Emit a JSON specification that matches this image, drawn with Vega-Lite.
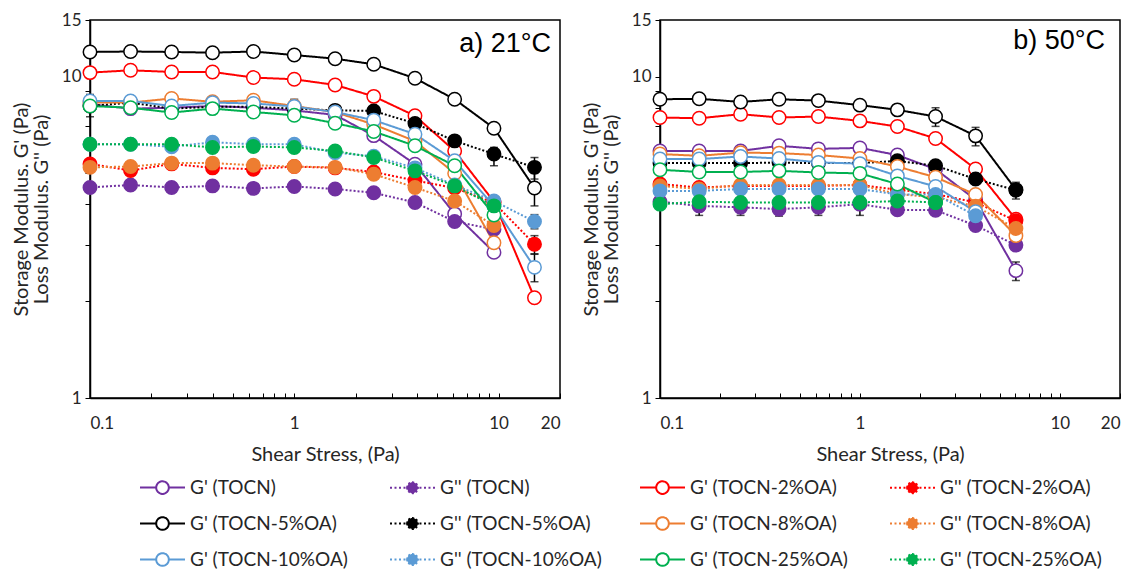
{
  "$schema": "https://vega.github.io/schema/vega-lite/v6.json",
  "background": "white",
  "padding": {"left": 10, "top": 10, "right": 5, "bottom": 5},
  "config": {
    "font": "Lato",
    "view": {"stroke": "black", "strokeWidth": 1.5},
    "axis": {
      "grid": false,
      "domainColor": "black",
      "domainWidth": 1.5,
      "tickColor": "black",
      "tickWidth": 1,
      "labelFont": "Lato",
      "labelFontSize": 17,
      "labelColor": "#262626",
      "titleFont": "Lato",
      "titleFontSize": 20,
      "titleFontWeight": "normal",
      "titleColor": "#262626"
    },
    "title": {
      "font": "Liberation Sans",
      "fontSize": 27,
      "fontWeight": "normal",
      "color": "black",
      "anchor": "end",
      "frame": "group",
      "orient": "top",
      "baseline": "alphabetic"
    },
    "legend": {
      "orient": "none",
      "direction": "horizontal",
      "legendX": 49,
      "legendY": 444,
      "columns": 4,
      "gridAlign": "all",
      "columnPadding": 34,
      "rowPadding": 2,
      "symbolType": "M-1,0L-0.28,0M0.28,0L1,0M-0.28,0A0.28,0.28,0,1,1,0.28,0A0.28,0.28,0,1,1,-0.28,0Z",
      "symbolSize": 2025,
      "symbolStrokeWidth": 2,
      "labelFont": "Lato",
      "labelFontSize": 19,
      "labelColor": "#262626",
      "labelLimit": 300
    }
  },
  "datasets": {
    "a": [
      {"s": "G' (TOCN)", "x": 0.1, "y": 8.2},
      {"s": "G' (TOCN)", "x": 0.158, "y": 7.95},
      {"s": "G' (TOCN)", "x": 0.251, "y": 8.0},
      {"s": "G' (TOCN)", "x": 0.398, "y": 8.1},
      {"s": "G' (TOCN)", "x": 0.631, "y": 8.0},
      {"s": "G' (TOCN)", "x": 1, "y": 7.85},
      {"s": "G' (TOCN)", "x": 1.585, "y": 7.6},
      {"s": "G' (TOCN)", "x": 2.45, "y": 6.55},
      {"s": "G' (TOCN)", "x": 3.9, "y": 5.34},
      {"s": "G' (TOCN)", "x": 6.1, "y": 3.74},
      {"s": "G' (TOCN)", "x": 9.5, "y": 2.84},

      {"s": "G'' (TOCN)", "x": 0.1, "y": 4.52},
      {"s": "G'' (TOCN)", "x": 0.158, "y": 4.6},
      {"s": "G'' (TOCN)", "x": 0.251, "y": 4.52},
      {"s": "G'' (TOCN)", "x": 0.398, "y": 4.57},
      {"s": "G'' (TOCN)", "x": 0.631, "y": 4.49},
      {"s": "G'' (TOCN)", "x": 1, "y": 4.55},
      {"s": "G'' (TOCN)", "x": 1.585, "y": 4.47},
      {"s": "G'' (TOCN)", "x": 2.45, "y": 4.35},
      {"s": "G'' (TOCN)", "x": 3.9, "y": 4.06},
      {"s": "G'' (TOCN)", "x": 6.1, "y": 3.54},
      {"s": "G'' (TOCN)", "x": 9.5, "y": 3.35},

      {"s": "G' (TOCN-2%OA)", "x": 0.1, "y": 10.29},
      {"s": "G' (TOCN-2%OA)", "x": 0.158, "y": 10.46},
      {"s": "G' (TOCN-2%OA)", "x": 0.251, "y": 10.34},
      {"s": "G' (TOCN-2%OA)", "x": 0.398, "y": 10.34},
      {"s": "G' (TOCN-2%OA)", "x": 0.631, "y": 9.93},
      {"s": "G' (TOCN-2%OA)", "x": 1, "y": 9.81},
      {"s": "G' (TOCN-2%OA)", "x": 1.585, "y": 9.42},
      {"s": "G' (TOCN-2%OA)", "x": 2.45, "y": 8.68},
      {"s": "G' (TOCN-2%OA)", "x": 3.9, "y": 7.55},
      {"s": "G' (TOCN-2%OA)", "x": 6.1, "y": 5.87},
      {"s": "G' (TOCN-2%OA)", "x": 9.5, "y": 4.08},
      {"s": "G' (TOCN-2%OA)", "x": 15, "y": 2.05},

      {"s": "G'' (TOCN-2%OA)", "x": 0.1, "y": 5.35},
      {"s": "G'' (TOCN-2%OA)", "x": 0.158, "y": 5.1},
      {"s": "G'' (TOCN-2%OA)", "x": 0.251, "y": 5.35},
      {"s": "G'' (TOCN-2%OA)", "x": 0.398, "y": 5.2},
      {"s": "G'' (TOCN-2%OA)", "x": 0.631, "y": 5.15},
      {"s": "G'' (TOCN-2%OA)", "x": 1, "y": 5.25},
      {"s": "G'' (TOCN-2%OA)", "x": 1.585, "y": 5.2},
      {"s": "G'' (TOCN-2%OA)", "x": 2.45, "y": 5.05},
      {"s": "G'' (TOCN-2%OA)", "x": 3.9, "y": 4.75},
      {"s": "G'' (TOCN-2%OA)", "x": 6.1, "y": 4.5},
      {"s": "G'' (TOCN-2%OA)", "x": 9.5, "y": 4.05},
      {"s": "G'' (TOCN-2%OA)", "x": 15, "y": 3.01, "lo": 2.81, "hi": 3.2},

      {"s": "G' (TOCN-5%OA)", "x": 0.1, "y": 11.93},
      {"s": "G' (TOCN-5%OA)", "x": 0.158, "y": 11.97},
      {"s": "G' (TOCN-5%OA)", "x": 0.251, "y": 11.93},
      {"s": "G' (TOCN-5%OA)", "x": 0.398, "y": 11.87},
      {"s": "G' (TOCN-5%OA)", "x": 0.631, "y": 11.97},
      {"s": "G' (TOCN-5%OA)", "x": 1, "y": 11.67},
      {"s": "G' (TOCN-5%OA)", "x": 1.585, "y": 11.37},
      {"s": "G' (TOCN-5%OA)", "x": 2.45, "y": 10.92},
      {"s": "G' (TOCN-5%OA)", "x": 3.9, "y": 9.88},
      {"s": "G' (TOCN-5%OA)", "x": 6.1, "y": 8.5},
      {"s": "G' (TOCN-5%OA)", "x": 9.5, "y": 6.91},
      {"s": "G' (TOCN-5%OA)", "x": 15, "y": 4.5, "lo": 3.96, "hi": 5.0},

      {"s": "G'' (TOCN-5%OA)", "x": 0.1, "y": 8.1, "lo": 7.5, "hi": 8.8},
      {"s": "G'' (TOCN-5%OA)", "x": 0.158, "y": 8.3},
      {"s": "G'' (TOCN-5%OA)", "x": 0.251, "y": 7.95, "lo": 7.45, "hi": 8.4},
      {"s": "G'' (TOCN-5%OA)", "x": 0.398, "y": 8.05},
      {"s": "G'' (TOCN-5%OA)", "x": 0.631, "y": 8.05},
      {"s": "G'' (TOCN-5%OA)", "x": 1, "y": 7.95, "lo": 7.4, "hi": 8.5},
      {"s": "G'' (TOCN-5%OA)", "x": 1.585, "y": 7.85},
      {"s": "G'' (TOCN-5%OA)", "x": 2.45, "y": 7.82},
      {"s": "G'' (TOCN-5%OA)", "x": 3.9, "y": 7.15},
      {"s": "G'' (TOCN-5%OA)", "x": 6.1, "y": 6.31},
      {"s": "G'' (TOCN-5%OA)", "x": 9.5, "y": 5.74, "lo": 5.28, "hi": 6.02},
      {"s": "G'' (TOCN-5%OA)", "x": 15, "y": 5.22, "lo": 4.8, "hi": 5.6},

      {"s": "G' (TOCN-8%OA)", "x": 0.1, "y": 8.3},
      {"s": "G' (TOCN-8%OA)", "x": 0.158, "y": 8.3},
      {"s": "G' (TOCN-8%OA)", "x": 0.251, "y": 8.55},
      {"s": "G' (TOCN-8%OA)", "x": 0.398, "y": 8.35},
      {"s": "G' (TOCN-8%OA)", "x": 0.631, "y": 8.44},
      {"s": "G' (TOCN-8%OA)", "x": 1, "y": 8.1},
      {"s": "G' (TOCN-8%OA)", "x": 1.585, "y": 7.75},
      {"s": "G' (TOCN-8%OA)", "x": 2.45, "y": 7.1},
      {"s": "G' (TOCN-8%OA)", "x": 3.9, "y": 6.3},
      {"s": "G' (TOCN-8%OA)", "x": 6.1, "y": 5.0},
      {"s": "G' (TOCN-8%OA)", "x": 9.5, "y": 3.04},

      {"s": "G'' (TOCN-8%OA)", "x": 0.1, "y": 5.22},
      {"s": "G'' (TOCN-8%OA)", "x": 0.158, "y": 5.25},
      {"s": "G'' (TOCN-8%OA)", "x": 0.251, "y": 5.38},
      {"s": "G'' (TOCN-8%OA)", "x": 0.398, "y": 5.38},
      {"s": "G'' (TOCN-8%OA)", "x": 0.631, "y": 5.3},
      {"s": "G'' (TOCN-8%OA)", "x": 1, "y": 5.25},
      {"s": "G'' (TOCN-8%OA)", "x": 1.585, "y": 5.22},
      {"s": "G'' (TOCN-8%OA)", "x": 2.45, "y": 4.97},
      {"s": "G'' (TOCN-8%OA)", "x": 3.9, "y": 4.52},
      {"s": "G'' (TOCN-8%OA)", "x": 6.1, "y": 4.1},
      {"s": "G'' (TOCN-8%OA)", "x": 9.5, "y": 3.44},

      {"s": "G' (TOCN-10%OA)", "x": 0.1, "y": 8.4},
      {"s": "G' (TOCN-10%OA)", "x": 0.158, "y": 8.4},
      {"s": "G' (TOCN-10%OA)", "x": 0.251, "y": 8.1},
      {"s": "G' (TOCN-10%OA)", "x": 0.398, "y": 8.3},
      {"s": "G' (TOCN-10%OA)", "x": 0.631, "y": 8.25},
      {"s": "G' (TOCN-10%OA)", "x": 1, "y": 8.07},
      {"s": "G' (TOCN-10%OA)", "x": 1.585, "y": 7.76},
      {"s": "G' (TOCN-10%OA)", "x": 2.45, "y": 7.32},
      {"s": "G' (TOCN-10%OA)", "x": 3.9, "y": 6.62},
      {"s": "G' (TOCN-10%OA)", "x": 6.1, "y": 5.47},
      {"s": "G' (TOCN-10%OA)", "x": 9.5, "y": 3.95},
      {"s": "G' (TOCN-10%OA)", "x": 15, "y": 2.55, "lo": 2.3, "hi": 2.8},

      {"s": "G'' (TOCN-10%OA)", "x": 0.1, "y": 6.16},
      {"s": "G'' (TOCN-10%OA)", "x": 0.158, "y": 6.16},
      {"s": "G'' (TOCN-10%OA)", "x": 0.251, "y": 6.05},
      {"s": "G'' (TOCN-10%OA)", "x": 0.398, "y": 6.25},
      {"s": "G'' (TOCN-10%OA)", "x": 0.631, "y": 6.16},
      {"s": "G'' (TOCN-10%OA)", "x": 1, "y": 6.16},
      {"s": "G'' (TOCN-10%OA)", "x": 1.585, "y": 5.8},
      {"s": "G'' (TOCN-10%OA)", "x": 2.45, "y": 5.65},
      {"s": "G'' (TOCN-10%OA)", "x": 3.9, "y": 5.2},
      {"s": "G'' (TOCN-10%OA)", "x": 6.1, "y": 4.6},
      {"s": "G'' (TOCN-10%OA)", "x": 9.5, "y": 4.1},
      {"s": "G'' (TOCN-10%OA)", "x": 15, "y": 3.54, "lo": 3.36, "hi": 3.72},

      {"s": "G' (TOCN-25%OA)", "x": 0.1, "y": 8.1},
      {"s": "G' (TOCN-25%OA)", "x": 0.158, "y": 8.0},
      {"s": "G' (TOCN-25%OA)", "x": 0.251, "y": 7.73},
      {"s": "G' (TOCN-25%OA)", "x": 0.398, "y": 7.95},
      {"s": "G' (TOCN-25%OA)", "x": 0.631, "y": 7.76},
      {"s": "G' (TOCN-25%OA)", "x": 1, "y": 7.58},
      {"s": "G' (TOCN-25%OA)", "x": 1.585, "y": 7.16},
      {"s": "G' (TOCN-25%OA)", "x": 2.45, "y": 6.75},
      {"s": "G' (TOCN-25%OA)", "x": 3.9, "y": 6.09},
      {"s": "G' (TOCN-25%OA)", "x": 6.1, "y": 5.28},
      {"s": "G' (TOCN-25%OA)", "x": 9.5, "y": 3.71},

      {"s": "G'' (TOCN-25%OA)", "x": 0.1, "y": 6.16},
      {"s": "G'' (TOCN-25%OA)", "x": 0.158, "y": 6.16},
      {"s": "G'' (TOCN-25%OA)", "x": 0.251, "y": 6.16},
      {"s": "G'' (TOCN-25%OA)", "x": 0.398, "y": 6.02},
      {"s": "G'' (TOCN-25%OA)", "x": 0.631, "y": 6.06},
      {"s": "G'' (TOCN-25%OA)", "x": 1, "y": 6.02},
      {"s": "G'' (TOCN-25%OA)", "x": 1.585, "y": 5.87},
      {"s": "G'' (TOCN-25%OA)", "x": 2.45, "y": 5.6},
      {"s": "G'' (TOCN-25%OA)", "x": 3.9, "y": 5.09},
      {"s": "G'' (TOCN-25%OA)", "x": 6.1, "y": 4.57},
      {"s": "G'' (TOCN-25%OA)", "x": 9.5, "y": 3.96}
    ],
    "b": [
      {"s": "G' (TOCN)", "x": 0.1, "y": 5.87},
      {"s": "G' (TOCN)", "x": 0.157, "y": 5.87},
      {"s": "G' (TOCN)", "x": 0.253, "y": 5.87},
      {"s": "G' (TOCN)", "x": 0.394, "y": 6.09},
      {"s": "G' (TOCN)", "x": 0.62, "y": 5.96},
      {"s": "G' (TOCN)", "x": 1, "y": 6.0},
      {"s": "G' (TOCN)", "x": 1.54, "y": 5.7},
      {"s": "G' (TOCN)", "x": 2.39, "y": 5.15},
      {"s": "G' (TOCN)", "x": 3.79, "y": 4.14},
      {"s": "G' (TOCN)", "x": 6.03, "y": 2.49, "lo": 2.32, "hi": 2.65},

      {"s": "G'' (TOCN)", "x": 0.1, "y": 4.08},
      {"s": "G'' (TOCN)", "x": 0.157, "y": 3.96, "lo": 3.7, "hi": 4.2},
      {"s": "G'' (TOCN)", "x": 0.253, "y": 3.92, "lo": 3.7, "hi": 4.15},
      {"s": "G'' (TOCN)", "x": 0.394, "y": 3.87, "lo": 3.68, "hi": 4.1},
      {"s": "G'' (TOCN)", "x": 0.62, "y": 3.92, "lo": 3.7, "hi": 4.15},
      {"s": "G'' (TOCN)", "x": 1, "y": 4.01, "lo": 3.7, "hi": 4.25},
      {"s": "G'' (TOCN)", "x": 1.54, "y": 3.85},
      {"s": "G'' (TOCN)", "x": 2.39, "y": 3.84},
      {"s": "G'' (TOCN)", "x": 3.79, "y": 3.44},
      {"s": "G'' (TOCN)", "x": 6.03, "y": 2.99},

      {"s": "G' (TOCN-2%OA)", "x": 0.1, "y": 7.46},
      {"s": "G' (TOCN-2%OA)", "x": 0.157, "y": 7.42},
      {"s": "G' (TOCN-2%OA)", "x": 0.253, "y": 7.64},
      {"s": "G' (TOCN-2%OA)", "x": 0.394, "y": 7.46},
      {"s": "G' (TOCN-2%OA)", "x": 0.62, "y": 7.51},
      {"s": "G' (TOCN-2%OA)", "x": 1, "y": 7.28},
      {"s": "G' (TOCN-2%OA)", "x": 1.54, "y": 6.99},
      {"s": "G' (TOCN-2%OA)", "x": 2.39, "y": 6.42},
      {"s": "G' (TOCN-2%OA)", "x": 3.79, "y": 5.16},
      {"s": "G' (TOCN-2%OA)", "x": 6.03, "y": 3.6},

      {"s": "G'' (TOCN-2%OA)", "x": 0.1, "y": 4.63},
      {"s": "G'' (TOCN-2%OA)", "x": 0.157, "y": 4.52},
      {"s": "G'' (TOCN-2%OA)", "x": 0.253, "y": 4.57},
      {"s": "G'' (TOCN-2%OA)", "x": 0.394, "y": 4.57},
      {"s": "G'' (TOCN-2%OA)", "x": 0.62, "y": 4.57},
      {"s": "G'' (TOCN-2%OA)", "x": 1, "y": 4.6},
      {"s": "G'' (TOCN-2%OA)", "x": 1.54, "y": 4.45},
      {"s": "G'' (TOCN-2%OA)", "x": 2.39, "y": 4.31},
      {"s": "G'' (TOCN-2%OA)", "x": 3.79, "y": 4.06},
      {"s": "G'' (TOCN-2%OA)", "x": 6.03, "y": 3.56},

      {"s": "G' (TOCN-5%OA)", "x": 0.1, "y": 8.5},
      {"s": "G' (TOCN-5%OA)", "x": 0.157, "y": 8.53},
      {"s": "G' (TOCN-5%OA)", "x": 0.253, "y": 8.34},
      {"s": "G' (TOCN-5%OA)", "x": 0.394, "y": 8.5},
      {"s": "G' (TOCN-5%OA)", "x": 0.62, "y": 8.42},
      {"s": "G' (TOCN-5%OA)", "x": 1, "y": 8.15},
      {"s": "G' (TOCN-5%OA)", "x": 1.54, "y": 7.88},
      {"s": "G' (TOCN-5%OA)", "x": 2.39, "y": 7.51, "lo": 7.0, "hi": 8.0},
      {"s": "G' (TOCN-5%OA)", "x": 3.79, "y": 6.54, "lo": 6.09, "hi": 6.95},
      {"s": "G' (TOCN-5%OA)", "x": 6.03, "y": 4.45},

      {"s": "G'' (TOCN-5%OA)", "x": 0.1, "y": 5.38},
      {"s": "G'' (TOCN-5%OA)", "x": 0.157, "y": 5.38},
      {"s": "G'' (TOCN-5%OA)", "x": 0.253, "y": 5.38},
      {"s": "G'' (TOCN-5%OA)", "x": 0.394, "y": 5.4},
      {"s": "G'' (TOCN-5%OA)", "x": 0.62, "y": 5.38},
      {"s": "G'' (TOCN-5%OA)", "x": 1, "y": 5.38},
      {"s": "G'' (TOCN-5%OA)", "x": 1.54, "y": 5.47},
      {"s": "G'' (TOCN-5%OA)", "x": 2.39, "y": 5.28},
      {"s": "G'' (TOCN-5%OA)", "x": 3.79, "y": 4.8},
      {"s": "G'' (TOCN-5%OA)", "x": 6.03, "y": 4.43, "lo": 4.16, "hi": 4.69},

      {"s": "G' (TOCN-8%OA)", "x": 0.1, "y": 5.74},
      {"s": "G' (TOCN-8%OA)", "x": 0.157, "y": 5.67},
      {"s": "G' (TOCN-8%OA)", "x": 0.253, "y": 5.8},
      {"s": "G' (TOCN-8%OA)", "x": 0.394, "y": 5.78},
      {"s": "G' (TOCN-8%OA)", "x": 0.62, "y": 5.7},
      {"s": "G' (TOCN-8%OA)", "x": 1, "y": 5.56},
      {"s": "G' (TOCN-8%OA)", "x": 1.54, "y": 5.25},
      {"s": "G' (TOCN-8%OA)", "x": 2.39, "y": 4.86},
      {"s": "G' (TOCN-8%OA)", "x": 3.79, "y": 4.3},
      {"s": "G' (TOCN-8%OA)", "x": 6.03, "y": 3.2},

      {"s": "G'' (TOCN-8%OA)", "x": 0.1, "y": 4.57},
      {"s": "G'' (TOCN-8%OA)", "x": 0.157, "y": 4.47},
      {"s": "G'' (TOCN-8%OA)", "x": 0.253, "y": 4.6},
      {"s": "G'' (TOCN-8%OA)", "x": 0.394, "y": 4.6},
      {"s": "G'' (TOCN-8%OA)", "x": 0.62, "y": 4.6},
      {"s": "G'' (TOCN-8%OA)", "x": 1, "y": 4.6},
      {"s": "G'' (TOCN-8%OA)", "x": 1.54, "y": 4.31},
      {"s": "G'' (TOCN-8%OA)", "x": 2.39, "y": 4.21},
      {"s": "G'' (TOCN-8%OA)", "x": 3.79, "y": 3.95},
      {"s": "G'' (TOCN-8%OA)", "x": 6.03, "y": 3.37},

      {"s": "G' (TOCN-10%OA)", "x": 0.1, "y": 5.54},
      {"s": "G' (TOCN-10%OA)", "x": 0.157, "y": 5.54},
      {"s": "G' (TOCN-10%OA)", "x": 0.253, "y": 5.64},
      {"s": "G' (TOCN-10%OA)", "x": 0.394, "y": 5.56},
      {"s": "G' (TOCN-10%OA)", "x": 0.62, "y": 5.41},
      {"s": "G' (TOCN-10%OA)", "x": 1, "y": 5.36},
      {"s": "G' (TOCN-10%OA)", "x": 1.54, "y": 4.91},
      {"s": "G' (TOCN-10%OA)", "x": 2.39, "y": 4.55},
      {"s": "G' (TOCN-10%OA)", "x": 3.79, "y": 3.8},

      {"s": "G'' (TOCN-10%OA)", "x": 0.1, "y": 4.41},
      {"s": "G'' (TOCN-10%OA)", "x": 0.157, "y": 4.41},
      {"s": "G'' (TOCN-10%OA)", "x": 0.253, "y": 4.47},
      {"s": "G'' (TOCN-10%OA)", "x": 0.394, "y": 4.47},
      {"s": "G'' (TOCN-10%OA)", "x": 0.62, "y": 4.47},
      {"s": "G'' (TOCN-10%OA)", "x": 1, "y": 4.47},
      {"s": "G'' (TOCN-10%OA)", "x": 1.54, "y": 4.3},
      {"s": "G'' (TOCN-10%OA)", "x": 2.39, "y": 4.3},
      {"s": "G'' (TOCN-10%OA)", "x": 3.79, "y": 3.69},

      {"s": "G' (TOCN-25%OA)", "x": 0.1, "y": 5.13},
      {"s": "G' (TOCN-25%OA)", "x": 0.157, "y": 5.05},
      {"s": "G' (TOCN-25%OA)", "x": 0.253, "y": 5.05},
      {"s": "G' (TOCN-25%OA)", "x": 0.394, "y": 5.09},
      {"s": "G' (TOCN-25%OA)", "x": 0.62, "y": 5.03},
      {"s": "G' (TOCN-25%OA)", "x": 1, "y": 5.0},
      {"s": "G' (TOCN-25%OA)", "x": 1.54, "y": 4.63},
      {"s": "G' (TOCN-25%OA)", "x": 2.39, "y": 4.06},

      {"s": "G'' (TOCN-25%OA)", "x": 0.1, "y": 4.01},
      {"s": "G'' (TOCN-25%OA)", "x": 0.157, "y": 4.08},
      {"s": "G'' (TOCN-25%OA)", "x": 0.253, "y": 4.06},
      {"s": "G'' (TOCN-25%OA)", "x": 0.394, "y": 4.06},
      {"s": "G'' (TOCN-25%OA)", "x": 0.62, "y": 4.06},
      {"s": "G'' (TOCN-25%OA)", "x": 1, "y": 4.06},
      {"s": "G'' (TOCN-25%OA)", "x": 1.54, "y": 4.1},
      {"s": "G'' (TOCN-25%OA)", "x": 2.39, "y": 4.06}
    ]
  },
  "hconcat": [
    {
      "width": 470,
      "height": 378,
      "title": {"text": "a) 21°C", "dx": -9, "offset": -47},
      "data": {"name": "a"},
      "encoding": {
        "x": {
          "field": "x", "type": "quantitative",
          "scale": {"type": "log", "domain": [0.1, 20], "nice": false},
          "axis": {
            "title": "Shear Stress, (Pa)",
            "values": [0.1, 0.2, 0.3, 0.4, 0.5, 0.6, 0.7, 0.8, 0.9, 1, 2, 3, 4, 5, 6, 7, 8, 9, 10, 20],
            "format": "~g",
            "labelExpr": "(datum.value == 0.1 || datum.value == 1 || datum.value == 10 || datum.value == 20) ? datum.label : ''",
            "tickSize": -5,
            "labelPadding": 22,
            "titlePadding": 13
          }
        },
        "y": {
          "field": "y", "type": "quantitative",
          "scale": {"type": "log", "domain": [1, 15], "nice": false},
          "title": ["Storage Modulus. G' (Pa)", "Loss Modulus. G'' (Pa)"],
          "axis": {
            "values": [1, 2, 3, 4, 5, 6, 7, 8, 9, 10, 15],
            "format": "~g",
            "labelExpr": "(datum.value == 1 || datum.value == 10 || datum.value == 15) ? datum.label : ''",
            "tickSize": 5,
            "labelPadding": 4,
            "titlePadding": 10,
            "titleLineHeight": 20
          }
        }
      },
      "layer": [
        {
          "transform": [{"filter": "isValid(datum.lo)"}],
          "mark": {"type": "errorbar", "color": "black", "thickness": 1.5, "ticks": {"size": 8, "thickness": 1.5, "color": "black"}},
          "encoding": {
            "y": {"field": "lo", "type": "quantitative", "title": ["Storage Modulus. G' (Pa)", "Loss Modulus. G'' (Pa)"]},
            "y2": {"field": "hi"}
          }
        },
        {
          "mark": {"type": "line", "strokeWidth": 2},
          "encoding": {
            "stroke": {
              "field": "s", "type": "nominal",
              "scale": {
                "domain": ["G' (TOCN)", "G'' (TOCN)", "G' (TOCN-2%OA)", "G'' (TOCN-2%OA)", "G' (TOCN-5%OA)", "G'' (TOCN-5%OA)", "G' (TOCN-8%OA)", "G'' (TOCN-8%OA)", "G' (TOCN-10%OA)", "G'' (TOCN-10%OA)", "G' (TOCN-25%OA)", "G'' (TOCN-25%OA)"],
                "range": ["#7030A0", "#7030A0", "#FF0000", "#FF0000", "#000000", "#000000", "#ED7D31", "#ED7D31", "#5B9BD5", "#5B9BD5", "#00B050", "#00B050"]
              },
              "legend": {
                "title": null,
                "encode": {
                  "symbols": {
                    "update": {
                      "shape": {"signal": "indexof(datum.value, \"G''\") >= 0 ? 'M-1,0H-0.91M-0.8,0H-0.71M-0.6,0H-0.51M-0.4,0H-0.31M0.31,0H0.4M0.51,0H0.6M0.71,0H0.8M0.91,0H1M-0.24,0A0.24,0.24,0,1,1,0.24,0A0.24,0.24,0,1,1,-0.24,0Z' : 'M-1,0L-0.28,0M0.28,0L1,0M-0.28,0A0.28,0.28,0,1,1,0.28,0A0.28,0.28,0,1,1,-0.28,0Z'"},
                      "stroke": {"scale": "stroke", "field": "value"},
                      "fill": {"scale": "fill", "field": "value"},
                      "strokeDash": {"value": []},
                      "opacity": {"value": 1}
                    }
                  }
                }
              }
            },
            "strokeDash": {
              "field": "s", "type": "nominal",
              "scale": {
                "domain": ["G' (TOCN)", "G'' (TOCN)", "G' (TOCN-2%OA)", "G'' (TOCN-2%OA)", "G' (TOCN-5%OA)", "G'' (TOCN-5%OA)", "G' (TOCN-8%OA)", "G'' (TOCN-8%OA)", "G' (TOCN-10%OA)", "G'' (TOCN-10%OA)", "G' (TOCN-25%OA)", "G'' (TOCN-25%OA)"],
                "range": [[1, 0], [2, 2], [1, 0], [2, 2], [1, 0], [2, 2], [1, 0], [2, 2], [1, 0], [2, 2], [1, 0], [2, 2]]
              },
              "legend": null
            }
          }
        },
        {
          "mark": {"type": "point", "filled": true, "size": 180, "strokeWidth": 1.5, "opacity": 1},
          "encoding": {
            "stroke": {"field": "s", "type": "nominal"},
            "fill": {
              "field": "s", "type": "nominal",
              "scale": {
                "domain": ["G' (TOCN)", "G'' (TOCN)", "G' (TOCN-2%OA)", "G'' (TOCN-2%OA)", "G' (TOCN-5%OA)", "G'' (TOCN-5%OA)", "G' (TOCN-8%OA)", "G'' (TOCN-8%OA)", "G' (TOCN-10%OA)", "G'' (TOCN-10%OA)", "G' (TOCN-25%OA)", "G'' (TOCN-25%OA)"],
                "range": ["white", "#7030A0", "white", "#FF0000", "white", "#000000", "white", "#ED7D31", "white", "#5B9BD5", "white", "#00B050"]
              },
              "legend": {"title": null}
            }
          }
        }
      ]
    },
    {
      "width": 460,
      "height": 378,
      "title": {"text": "b) 50°C", "dx": -15, "offset": -44},
      "data": {"name": "b"},
      "encoding": {
        "x": {
          "field": "x", "type": "quantitative",
          "scale": {"type": "log", "domain": [0.1, 20], "nice": false},
          "axis": {
            "title": "Shear Stress, (Pa)",
            "values": [0.1, 0.2, 0.3, 0.4, 0.5, 0.6, 0.7, 0.8, 0.9, 1, 2, 3, 4, 5, 6, 7, 8, 9, 10, 20],
            "format": "~g",
            "labelExpr": "(datum.value == 0.1 || datum.value == 1 || datum.value == 10 || datum.value == 20) ? datum.label : ''",
            "tickSize": -5,
            "labelPadding": 22,
            "titlePadding": 13
          }
        },
        "y": {
          "field": "y", "type": "quantitative",
          "scale": {"type": "log", "domain": [1, 15], "nice": false},
          "title": ["Storage Modulus. G' (Pa)", "Loss Modulus. G'' (Pa)"],
          "axis": {
            "values": [1, 2, 3, 4, 5, 6, 7, 8, 9, 10, 15],
            "format": "~g",
            "labelExpr": "(datum.value == 1 || datum.value == 10 || datum.value == 15) ? datum.label : ''",
            "tickSize": 5,
            "labelPadding": 4,
            "titlePadding": 10,
            "titleLineHeight": 20
          }
        }
      },
      "layer": [
        {
          "transform": [{"filter": "isValid(datum.lo)"}],
          "mark": {"type": "errorbar", "color": "black", "thickness": 1.5, "ticks": {"size": 8, "thickness": 1.5, "color": "black"}},
          "encoding": {
            "y": {"field": "lo", "type": "quantitative", "title": ["Storage Modulus. G' (Pa)", "Loss Modulus. G'' (Pa)"]},
            "y2": {"field": "hi"}
          }
        },
        {
          "mark": {"type": "line", "strokeWidth": 2},
          "encoding": {
            "stroke": {"field": "s", "type": "nominal"},
            "strokeDash": {"field": "s", "type": "nominal", "legend": null}
          }
        },
        {
          "mark": {"type": "point", "filled": true, "size": 180, "strokeWidth": 1.5, "opacity": 1},
          "encoding": {
            "stroke": {"field": "s", "type": "nominal"},
            "fill": {"field": "s", "type": "nominal"}
          }
        }
      ]
    }
  ],
  "spacing": 18
}
